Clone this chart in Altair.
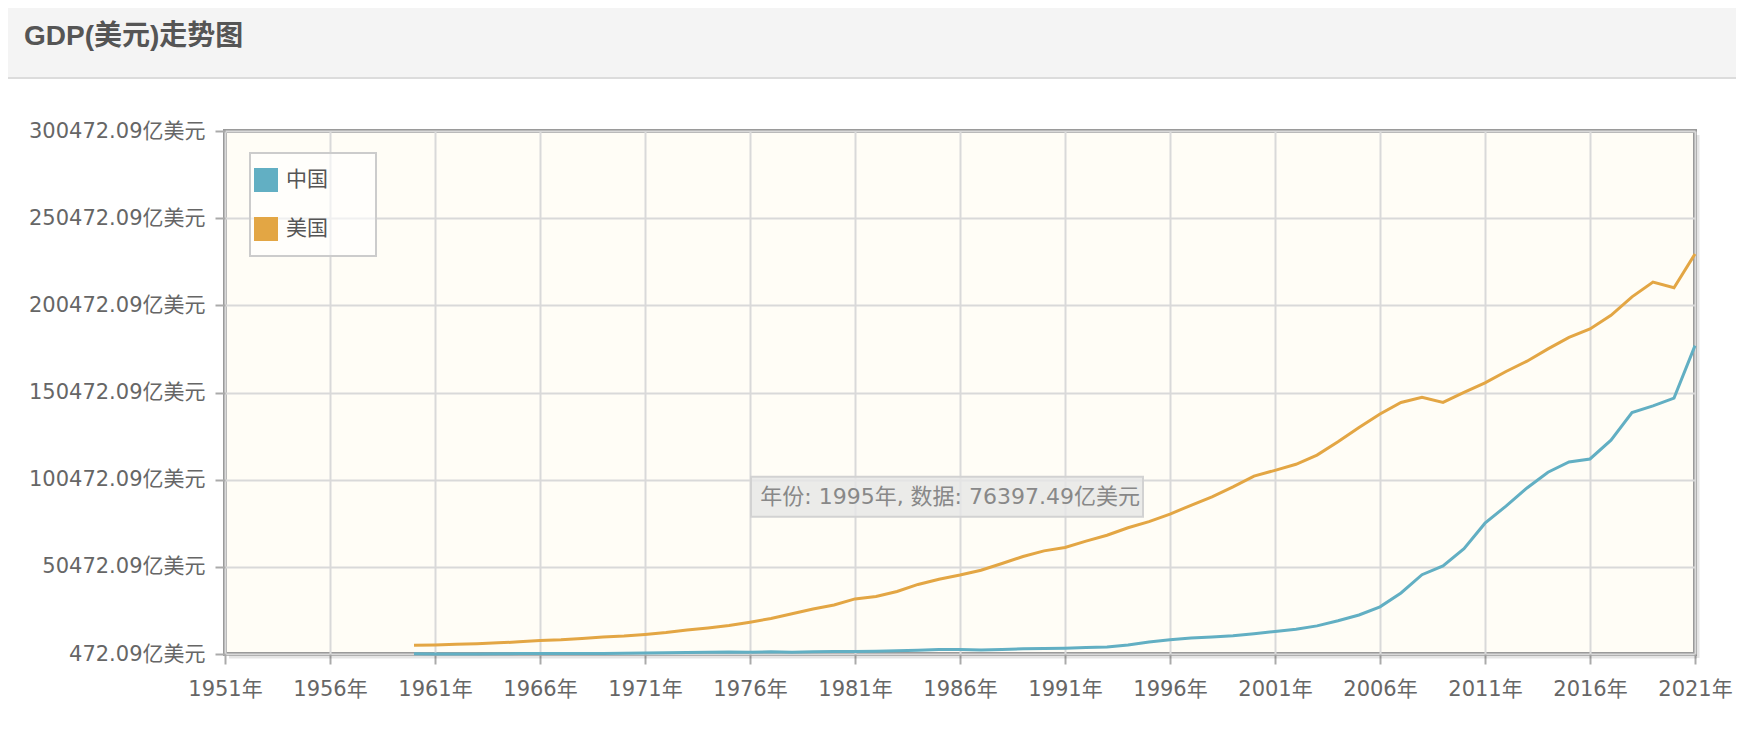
import altair as alt
import pandas as pd

# ---------------- data ----------------
title_text = "GDP(美元)走势图"
series_names = ["中国", "美国"]
series_colors = ["#62afc3", "#e3a644"]

years = list(range(1960, 2022))
china = [597.2, 500.6, 472.09, 507.1, 597.1, 704.4, 767.2, 728.8, 708.5, 797.1,
         926.0, 998.0, 1136.9, 1385.4, 1441.8, 1634.3, 1539.4, 1749.4, 1495.4, 1782.8,
         1911.5, 1958.7, 2050.9, 2306.9, 2599.5, 3094.9, 3007.6, 2729.7, 3123.5, 3477.7,
         3608.6, 3833.7, 4269.2, 4447.3, 5643.3, 7345.5, 8637.5, 9616.0, 10290.4, 10939.9,
         12113.5, 13394.0, 14705.5, 16602.9, 19553.5, 22859.7, 27521.3, 35503.4, 45943.1, 51017.0,
         60871.6, 75515.0, 85322.3, 95704.1, 104756.8, 110615.5, 112332.8, 123104.1, 138948.2, 142799.4,
         147227.3, 177340.6]
usa = [5433, 5633, 6051, 6386, 6858, 7437, 8150, 8617, 9425, 10199,
       10733, 11649, 12791, 14254, 15452, 16849, 18734, 20818, 23516, 26273,
       28573, 32070, 33438, 36340, 40376, 43390, 45796, 48552, 52364, 56416,
       59631, 61581, 65203, 68586, 72872, 76397.49, 80731, 85776, 90628, 96312,
       102510, 105819, 109291, 114565, 122172, 130392, 138156, 144742, 147699, 144781,
       150490, 155997, 162540, 168432, 175507, 182060, 186951, 194773, 205331, 213810,
       210605, 229961]

x_ticks = [1951, 1956, 1961, 1966, 1971, 1976, 1981, 1986, 1991, 1996, 2001, 2006, 2011, 2016, 2021]
y_ticks = [472.09, 50472.09, 100472.09, 150472.09, 200472.09, 250472.09, 300472.09]

tip_year = 1995
tip_value = usa[years.index(tip_year)]
tip_label = f"年份: {tip_year}年, 数据: {tip_value:.2f}亿美元"

# ---------------- tables ----------------
df = pd.concat([
    pd.DataFrame({"name": series_names[0], "year": years, "value": china}),
    pd.DataFrame({"name": series_names[1], "year": years, "value": usa}),
], ignore_index=True)
df_tip = pd.DataFrame({"year": [tip_year], "value": [tip_value], "label": [tip_label]})
one = pd.DataFrame({"k": [0]})

W, H = 1470, 523
PAD_L, PAD_T, PAD_R, PAD_B = 217, 123, 41, 60
FONT = "DejaVu Sans, Noto Sans CJK SC"

x = alt.X("year:Q",
          scale=alt.Scale(domain=[x_ticks[0], x_ticks[-1]], nice=False, zero=False),
          axis=alt.Axis(values=x_ticks, labelExpr="datum.value + '年'", title=None,
                        labelPadding=14, labelFlush=False, labelOverlap=False))
y = alt.Y("value:Q",
          scale=alt.Scale(domain=[y_ticks[0], y_ticks[-1]], nice=False, zero=False),
          axis=alt.Axis(values=y_ticks, labelExpr="format(datum.value, '.2f') + '亿美元'",
                        title=None, labelPadding=10, labelFlush=False, labelOverlap=False))
cscale = alt.Scale(domain=series_names, range=series_colors)

# ---------------- decoration ----------------
header = alt.Chart(one).mark_rect(fill="#f4f4f4").encode(
    x=alt.value(-PAD_L), x2=alt.value(W + PAD_R), y=alt.value(-PAD_T), y2=alt.value(-54))
header_line = alt.Chart(one).mark_rule(color="#dcdcdc", strokeWidth=2).encode(
    x=alt.value(-PAD_L), x2=alt.value(W + PAD_R), y=alt.value(-53))
header_text = alt.Chart(one).mark_text(
    text=title_text, align="left", baseline="middle", fontSize=28, fontWeight="bold",
    color="#555555", font="Liberation Sans, Noto Sans CJK SC").encode(
    x=alt.value(-201), y=alt.value(-94))

shadow_r = alt.Chart(one).mark_rule(color="rgba(0,0,0,0.10)", strokeWidth=3).encode(
    x=alt.value(W + 3), y=alt.value(4), y2=alt.value(H + 4))
shadow_b = alt.Chart(one).mark_rule(color="rgba(0,0,0,0.10)", strokeWidth=3).encode(
    y=alt.value(H + 3), x=alt.value(4), x2=alt.value(W + 2))

legend_box = alt.Chart(one).mark_rect(fill="white", fillOpacity=0.6, stroke="#cccccc", strokeWidth=2).encode(
    x=alt.value(25), x2=alt.value(151), y=alt.value(22), y2=alt.value(125))

# ---------------- data marks ----------------
lines = alt.Chart(df).mark_line(strokeWidth=3).encode(
    x=x, y=y,
    color=alt.Color("name:N", scale=cscale, legend=alt.Legend(
        title=None, orient="none", legendX=29, legendY=37,
        symbolType="square", symbolSize=144, symbolStrokeWidth=12,
        labelFontSize=21, labelColor="#555555", labelFont=FONT,
        labelOffset=8, rowPadding=-11, padding=0)))

tip_box = alt.Chart(df_tip).mark_rect(
    fill="#e6e6e6", fillOpacity=0.8, stroke="#d2d2d2", strokeWidth=2,
    xOffset=-398, x2Offset=-6, yOffset=-45, y2Offset=-5).encode(
    x=x, x2=alt.X2("year"), y=y, y2=alt.Y2("value"))
tip_text = alt.Chart(df_tip).mark_text(
    align="right", baseline="middle", dx=-9, dy=-25, fontSize=22, color="#888888", font=FONT).encode(
    x=x, y=y, text="label:N")

chart = alt.layer(
    header, header_line, header_text, shadow_r, shadow_b, legend_box,
    lines, tip_box, tip_text
).properties(
    width=W, height=H,
    padding={"left": PAD_L, "top": PAD_T, "right": PAD_R, "bottom": PAD_B},
    autosize=alt.AutoSizeParams(type="none"),
).configure_view(
    fill="#fffdf6", stroke="#9a9a9a", strokeWidth=4
).configure_axis(
    grid=True, gridColor="#d9d9d9", gridWidth=2, domain=False,
    tickColor="#aaaaaa", tickWidth=2, tickSize=10,
    labelFont=FONT, labelFontSize=21, labelColor="#666666"
)

chart.save("out.html", embed_options={"renderer": "svg", "actions": False})
